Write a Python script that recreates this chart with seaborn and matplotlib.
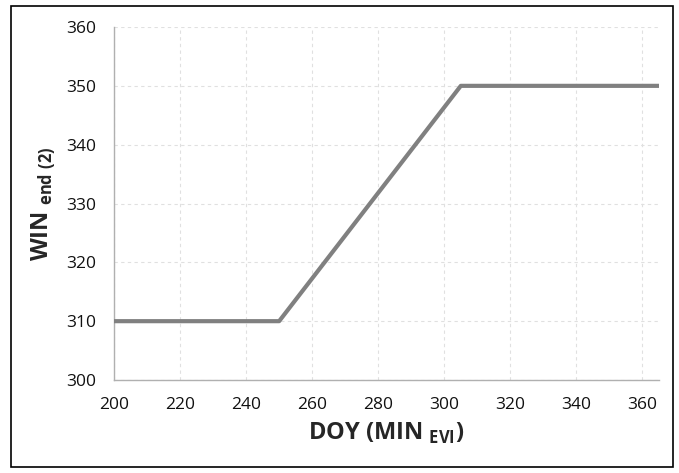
import matplotlib
matplotlib.use("Agg")
import matplotlib.pyplot as plt
import seaborn as sns
import pandas as pd
from matplotlib.patches import Rectangle

doy_min_evi = [200, 250, 305, 365]
win_end = [310, 310, 350, 350]
x_ticks = [200, 220, 240, 260, 280, 300, 320, 340, 360]
y_ticks = [300, 310, 320, 330, 340, 350, 360]

sns.set_style("white")
plt.rcParams['font.family'] = ['Open Sans', 'DejaVu Sans']
plt.rcParams['mathtext.fontset'] = 'custom'
plt.rcParams['mathtext.rm'] = 'Open Sans'
plt.rcParams['mathtext.bf'] = 'Open Sans:bold'

df = pd.DataFrame({"x": doy_min_evi, "y": win_end})

fig = plt.figure(figsize=(6.79, 4.73), dpi=100)
ax = fig.add_axes([0.1679, 0.1966, 0.8026, 0.7463])
sns.lineplot(data=df, x="x", y="y", ax=ax, color="#808080", linewidth=3, zorder=3)

ax.set_xlim(200, 365)
ax.set_ylim(300, 360)
ax.set_xticks(x_ticks)
ax.set_yticks(y_ticks)
ax.tick_params(axis='both', labelsize=12.5, labelcolor='#111111', length=5, width=0.8,
               direction='out', color='#b0b0b0')
ax.tick_params(axis='y', pad=8)
ax.tick_params(axis='x', pad=7)
ax.grid(True, color='#e0e0e0', linestyle=(0, (3, 3)), linewidth=0.8)
for s in ['top', 'right']:
    ax.spines[s].set_visible(False)
for s in ['left', 'bottom']:
    ax.spines[s].set_color('#b0b0b0')
    ax.spines[s].set_linewidth(1.0)

ax.set_xlabel(r'DOY (MIN $_{\mathbf{EVI}}$)', fontsize=17, fontweight='bold', labelpad=6)
ax.set_ylabel(r'WIN $_{\mathbf{end\ (2)}}$', fontsize=17, fontweight='bold', labelpad=5)

fig.patches.append(Rectangle((11/679, 6/473), 662/679, 461/473, transform=fig.transFigure,
                             fill=False, edgecolor='black', linewidth=1.2))

fig.savefig("out.png", dpi=100)
